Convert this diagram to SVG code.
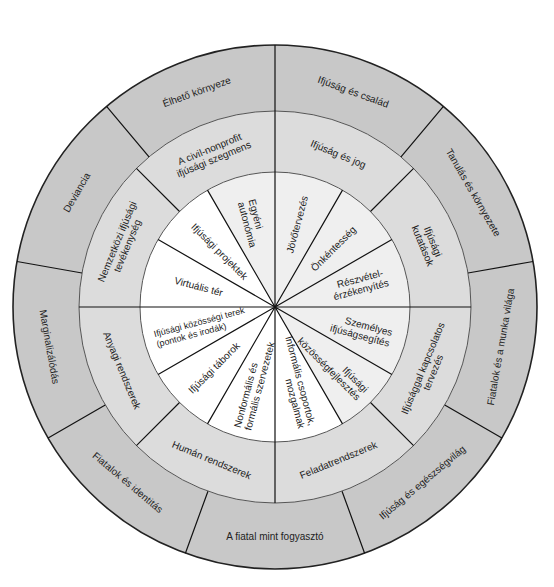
<svg xmlns="http://www.w3.org/2000/svg" width="554" height="587" viewBox="0 0 554 587">
<style>
.o{fill:#c8c8c8}
.m{fill:#dcdcdc}
.w{fill:#ffffff}
.g{fill:#efefef}
text{font-family:"Liberation Sans",Arial,Helvetica,sans-serif;font-size:10px;fill:#222}
.c{text-anchor:middle}
.s{text-anchor:start}
.e{text-anchor:end}
.sm{font-size:9px}
.ln{stroke:#111;stroke-width:1.2;fill:none}
.ring{stroke:#555;stroke-width:1;fill:none}
.edge{stroke:#222;stroke-width:1.6;fill:none}
</style>
<rect width="554" height="587" fill="#ffffff"/>

<!-- Outer ring -->
<g id="outer-csalad"><path class="o" d="M275,111 L275,45 A262,262 0 0 1 443.41,106.31 L400.99,156.86 A196,196 0 0 0 275,111 Z"/>
<text class="c" transform="translate(353.32,91.81) rotate(20)" y="3.5">Ifjúság és család</text></g>
<g id="outer-tanulas"><path class="o" d="M400.99,156.86 L443.41,106.31 A262,262 0 0 1 533.02,261.52 L468.02,272.97 A196,196 0 0 0 400.99,156.86 Z"/>
<text class="c" transform="translate(473.32,192.5) rotate(60)" y="3.5">Tanulás és környezete</text></g>
<g id="outer-munka"><path class="o" d="M468.02,272.97 L533.02,261.52 A262,262 0 0 1 501.89,438 L444.74,405 A196,196 0 0 0 468.02,272.97 Z"/>
<text class="c" transform="translate(500.52,346.76) rotate(-80)" y="3.5">Fiatalok és a munka világa</text></g>
<g id="outer-egeszseg"><path class="o" d="M444.74,405 L501.89,438 A262,262 0 0 1 364.6,553.2 L342.03,491.18 A196,196 0 0 0 444.74,405 Z"/>
<text class="c" transform="translate(422.2,482.41) rotate(-40)" y="3.5">Ifjúság és egészségvilág</text></g>
<g id="outer-fogyaszto"><path class="o" d="M342.03,491.18 L364.6,553.2 A262,262 0 0 1 185.4,553.2 L207.97,491.18 A196,196 0 0 0 342.03,491.18 Z"/>
<text class="c" transform="translate(275,536)" y="3.5">A fiatal mint fogyasztó</text></g>
<g id="outer-identitas"><path class="o" d="M207.97,491.18 L185.4,553.2 A262,262 0 0 1 48.11,438 L105.26,405 A196,196 0 0 0 207.97,491.18 Z"/>
<text class="c" transform="translate(127.8,482.41) rotate(40)" y="3.5">Fiatalok és identitás</text></g>
<g id="outer-marginalizalodas"><path class="o" d="M105.26,405 L48.11,438 A262,262 0 0 1 16.98,261.52 L81.98,272.97 A196,196 0 0 0 105.26,405 Z"/>
<text class="c" transform="translate(49.48,346.76) rotate(80)" y="3.5">Marginalizálódás</text></g>
<g id="outer-deviancia"><path class="o" d="M81.98,272.97 L16.98,261.52 A262,262 0 0 1 106.59,106.31 L149.01,156.86 A196,196 0 0 0 81.98,272.97 Z"/>
<text class="c" transform="translate(76.68,192.5) rotate(-60)" y="3.5">Deviancia</text></g>
<g id="outer-elheto"><path class="o" d="M149.01,156.86 L106.59,106.31 A262,262 0 0 1 275,45 L275,111 A196,196 0 0 0 149.01,156.86 Z"/>
<text class="c" transform="translate(196.68,91.81) rotate(-20)" y="3.5">Élhető környeze</text></g>

<!-- Middle ring -->
<g id="mid-jog"><path class="m" d="M275,172 L275,111 A196,196 0 0 1 413.59,168.41 L370.46,211.54 A135,135 0 0 0 275,172 Z"/>
<text class="c" transform="translate(338.34,154.09) rotate(22.5)" y="3.5">Ifjúság és jog</text></g>
<g id="mid-kutatasok"><path class="m" d="M370.46,211.54 L413.59,168.41 A196,196 0 0 1 471,307 L410,307 A135,135 0 0 0 370.46,211.54 Z"/>
<text class="c" transform="translate(427.91,243.66) rotate(67.5)"><tspan x="0" y="-2">Ifjúsági</tspan><tspan x="0" y="9">kutatások</tspan></text></g>
<g id="mid-tervezes"><path class="m" d="M410,307 L471,307 A196,196 0 0 1 413.59,445.59 L370.46,402.46 A135,135 0 0 0 410,307 Z"/>
<text class="c" transform="translate(427.91,370.34) rotate(-67.5)"><tspan x="0" y="-2">Ifjúsággal kapcsolatos</tspan><tspan x="0" y="9">tervezés</tspan></text></g>
<g id="mid-feladat"><path class="m" d="M370.46,402.46 L413.59,445.59 A196,196 0 0 1 275,503 L275,442 A135,135 0 0 0 370.46,402.46 Z"/>
<text class="c" transform="translate(338.34,459.91) rotate(-22.5)" y="3.5">Feladatrendszerek</text></g>
<g id="mid-human"><path class="m" d="M275,442 L275,503 A196,196 0 0 1 136.41,445.59 L179.54,402.46 A135,135 0 0 0 275,442 Z"/>
<text class="c" transform="translate(211.66,459.91) rotate(22.5)" y="3.5">Humán rendszerek</text></g>
<g id="mid-anyagi"><path class="m" d="M179.54,402.46 L136.41,445.59 A196,196 0 0 1 79,307 L140,307 A135,135 0 0 0 179.54,402.46 Z"/>
<text class="c" transform="translate(122.09,370.34) rotate(67.5)" y="3.5">Anyagi rendszerek</text></g>
<g id="mid-nemzetkozi"><path class="m" d="M140,307 L79,307 A196,196 0 0 1 136.41,168.41 L179.54,211.54 A135,135 0 0 0 140,307 Z"/>
<text class="c" transform="translate(122.09,243.66) rotate(-67.5)"><tspan x="0" y="-2">Nemzetközi ifjúsági</tspan><tspan x="0" y="9">tevékenység</tspan></text></g>
<g id="mid-civil"><path class="m" d="M179.54,211.54 L136.41,168.41 A196,196 0 0 1 275,111 L275,172 A135,135 0 0 0 179.54,211.54 Z"/>
<text class="c" transform="translate(211.66,154.09) rotate(-22.5)"><tspan x="0" y="-2">A civil-nonprofit</tspan><tspan x="0" y="9">ifjúsági szegmens</tspan></text></g>

<!-- Inner circle -->
<g id="in-jovotervezes"><path class="g" d="M275,307 L275,172 A135,135 0 0 1 342.5,190.09 Z"/>
<text class="e" transform="translate(304.76,195.92) rotate(-75)" y="3.5">Jövőtervezés</text></g>
<g id="in-onkentesseg"><path class="g" d="M275,307 L342.5,190.09 A135,135 0 0 1 391.91,239.5 Z"/>
<text class="e" transform="translate(354.2,227.8) rotate(-45)" y="3.5">Önkéntesség</text></g>
<g id="in-reszvetel"><path class="g" d="M275,307 L391.91,239.5 A135,135 0 0 1 410,307 Z"/>
<text class="e" transform="translate(387.04,276.98) rotate(-15)"><tspan x="-3" y="-2">Részvétel-</tspan><tspan x="0" y="9">érzékenyítés</tspan></text></g>
<g id="in-szemelyes"><path class="g" d="M275,307 L410,307 A135,135 0 0 1 391.91,374.5 Z"/>
<text class="e" transform="translate(390.91,338.06) rotate(15)"><tspan x="0" y="-2">Személyes</tspan><tspan x="0" y="9">ifjúságsegítés</tspan></text></g>
<g id="in-kozossegfejlesztes"><path class="g" d="M275,307 L391.91,374.5 A135,135 0 0 1 342.5,423.91 Z"/>
<text class="e" transform="translate(362.68,394.68) rotate(45)"><tspan x="0" y="-2">Ifjúsági</tspan><tspan x="0" y="9">közösségfejlesztés</tspan></text></g>
<g id="in-informalis"><path class="w" d="M275,307 L342.5,423.91 A135,135 0 0 1 275,442 Z"/>
<text class="e" transform="translate(307.09,426.77) rotate(75)"><tspan x="0" y="-2">Informális csoportok,</tspan><tspan x="0" y="9">mozgalmak</tspan></text></g>
<g id="in-nonformalis"><path class="w" d="M275,307 L275,442 A135,135 0 0 1 207.5,423.91 Z"/>
<text class="s" transform="translate(242.39,428.71) rotate(-75)"><tspan x="0" y="-2">Nonformális és</tspan><tspan x="0" y="9">formális szervezetek</tspan></text></g>
<g id="in-taborok"><path class="w" d="M275,307 L207.5,423.91 A135,135 0 0 1 158.09,374.5 Z"/>
<text class="s" transform="translate(190.15,391.85) rotate(-45)" y="3.5">Ifjúsági táborok</text></g>
<g id="in-terek"><path class="w" d="M275,307 L158.09,374.5 A135,135 0 0 1 140,307 Z"/>
<text class="s sm" transform="translate(155.23,339.09) rotate(-15)"><tspan x="0" y="-2">Ifjúsági közösségi terek</tspan><tspan x="0" y="8.5">(pontok és irodák)</tspan></text></g>
<g id="in-virtualis"><path class="w" d="M275,307 L140,307 A135,135 0 0 1 158.09,239.5 Z"/>
<text class="s" transform="translate(174.54,280.08) rotate(15)" y="3.5">Virtuális tér</text></g>
<g id="in-projektek"><path class="w" d="M275,307 L158.09,239.5 A135,135 0 0 1 207.5,190.09 Z"/>
<text class="s" transform="translate(192.98,224.98) rotate(45)" y="3.5">Ifjúsági projektek</text></g>
<g id="in-autonomia"><path class="g" d="M275,307 L207.5,190.09 A135,135 0 0 1 275,172 Z"/>
<text class="s" transform="translate(246.53,200.75) rotate(75)"><tspan x="0" y="-2">Egyéni</tspan><tspan x="0" y="9">autonómia</tspan></text></g>

<!-- Dividing lines -->
<g id="connectors">
<circle class="ring" cx="275" cy="307" r="196"/>
<circle class="ring" cx="275" cy="307" r="135"/>
<circle class="edge" cx="275" cy="307" r="262"/>
<path class="ln" d="M275,45 L275,503 M79,307 L471,307"/>
<path class="ln" d="M275,307 L342.5,190.09 M275,307 L391.91,239.5 M275,307 L391.91,374.5 M275,307 L342.5,423.91 M275,307 L207.5,423.91 M275,307 L158.09,374.5 M275,307 L158.09,239.5 M275,307 L207.5,190.09"/>
<path class="ln" d="M370.46,211.54 L413.59,168.41 M370.46,402.46 L413.59,445.59 M179.54,402.46 L136.41,445.59 M179.54,211.54 L136.41,168.41"/>
<path class="ln" d="M400.99,156.86 L443.41,106.31 M468.02,272.97 L533.02,261.52 M444.74,405 L501.89,438 M342.03,491.18 L364.6,553.2 M207.97,491.18 L185.4,553.2 M105.26,405 L48.11,438 M81.98,272.97 L16.98,261.52 M149.01,156.86 L106.59,106.31"/>
</g>
</svg>
